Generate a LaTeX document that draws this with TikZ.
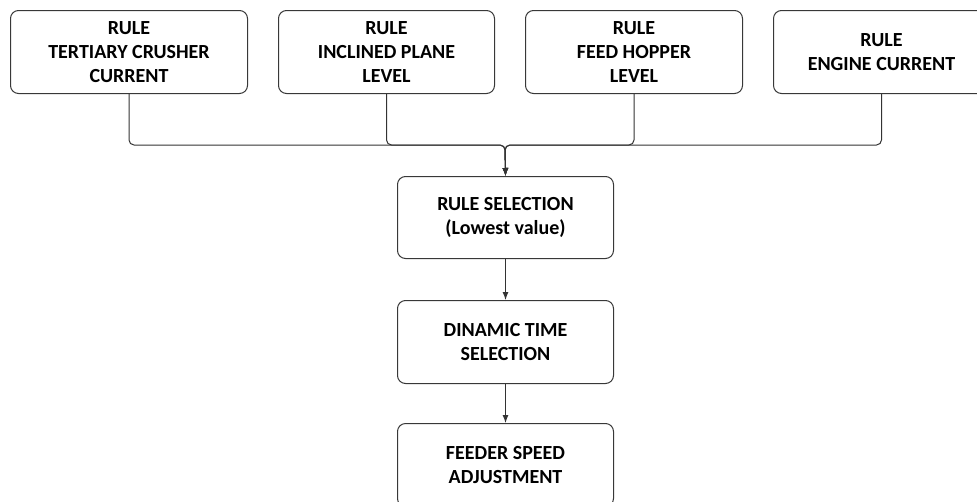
\documentclass[tikz,border=0pt]{standalone}
\usepackage{fontspec}
\setmainfont{Carlito}
\usetikzlibrary{arrows.meta}
\begin{document}
\begin{tikzpicture}[x=1pt,y=-1pt,
  box/.style={draw=black!78, line width=1pt, rounded corners=8pt, align=center,
    font=\bfseries\fontsize{20}{24}\selectfont, inner sep=0pt, anchor=north west,
    minimum height=83pt},
  conn/.style={draw=black!80, line width=1pt},
  arr/.style={-{Latex[length=8pt,width=6pt]}}]
\useasboundingbox (0,0) rectangle (977,501);
\clip (0,0) rectangle (977,501);
\node[box, minimum width=237pt] (b1) at (10,10) {RULE\\TERTIARY CRUSHER\\CURRENT};
\node[box, minimum width=216pt] (b2) at (278,10) {RULE\\INCLINED PLANE\\LEVEL};
\node[box, minimum width=217pt] (b3) at (525,10) {RULE\\FEED HOPPER\\LEVEL};
\node[box, minimum width=216pt] (b4) at (773,10) {RULE\\ENGINE CURRENT};
\node[box, minimum width=216pt, minimum height=82pt] (rs) at (397,176) {RULE SELECTION\\(Lowest value)};
\node[box, minimum width=216pt] (dt) at (397,300) {DINAMIC TIME\\SELECTION};
\node[box, minimum width=216pt] (fs) at (397,423) {FEEDER SPEED\\ADJUSTMENT};
\coordinate (j) at (505,145);
\draw[conn, arr, rounded corners=5pt] (b1.south) |- (j) -- (rs.north);
\draw[conn, arr, rounded corners=5pt] (b2.south) |- (j) -- (rs.north);
\draw[conn, arr, rounded corners=5pt] (b3.south) |- (j) -- (rs.north);
\draw[conn, arr, rounded corners=5pt] (b4.south) |- (j) -- (rs.north);
\draw[conn, arr] (rs.south) -- (dt.north);
\draw[conn, arr] (dt.south) -- (fs.north);
\end{tikzpicture}
\end{document}
